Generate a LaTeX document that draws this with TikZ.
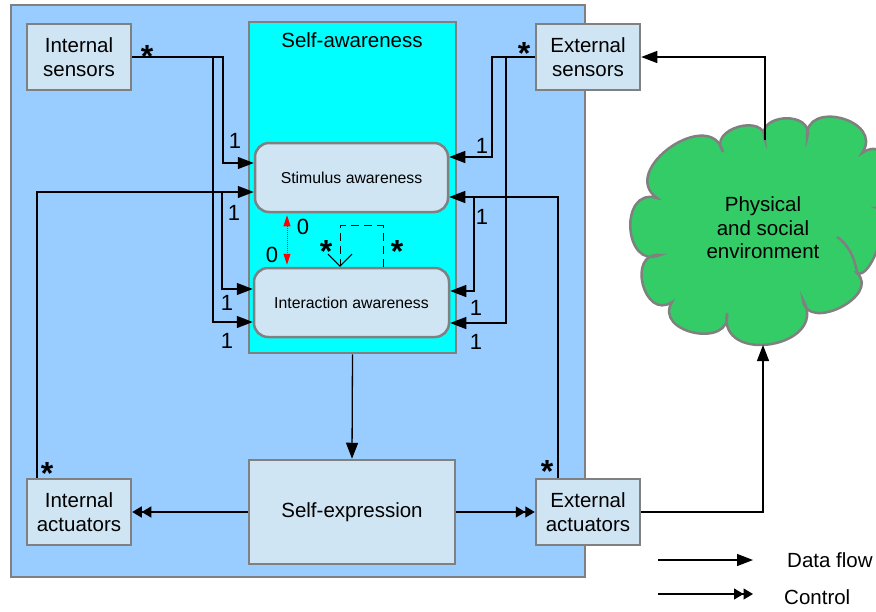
\documentclass[tikz,border=0pt]{standalone}
\usepackage{fontspec}
\setmainfont{Liberation Sans}
\usetikzlibrary{arrows.meta,backgrounds}
\definecolor{outerblue}{RGB}{153,204,255}
\definecolor{boxblue}{RGB}{207,229,243}
\definecolor{bordergray}{RGB}{128,128,128}
\definecolor{cloudgreen}{RGB}{51,204,102}
\definecolor{sacyan}{RGB}{0,255,255}
\tikzset{
  txt/.style={font=\fontsize{20.5}{23.5}\selectfont, align=center, inner sep=0pt},
  box/.style={txt, draw=bordergray, line width=2.5pt, fill=boxblue},
  smallbox/.style={box, minimum width=104pt, minimum height=66pt},
  awbox/.style={box, rounded corners=14pt, font=\fontsize{15.8}{18}\selectfont},
  flow/.style={line width=1.3pt, -{Triangle[length=16pt,width=12pt]}},
  ctrl/.style={line width=1.3pt, -{Triangle[length=9.5pt,width=11pt]Triangle[length=9.5pt,width=11pt]}},
  num/.style={font=\fontsize{22}{22}\selectfont, inner sep=0pt},
  starlbl/.style={font=\fontsize{32}{32}\selectfont\bfseries, inner sep=0pt},
}
\begin{document}
\begin{tikzpicture}[x=1pt,y=-1pt]
\useasboundingbox (0,0) rectangle (876,611);
% outer frame
\node[draw=bordergray, line width=2.5pt, fill=outerblue, minimum width=574pt, minimum height=572pt, inner sep=0pt] (outer) at (298,291) {};
% self-awareness
\node[draw=bordergray, line width=2.5pt, fill=sacyan, minimum width=207pt, minimum height=331pt, inner sep=0pt] (SA) at (352.5,187.5) {};
\node[txt] (satitle) at (352,40) {Self-awareness};
\node[awbox, minimum width=193pt, minimum height=69pt] (Stim) at (351.5,177.5) {Stimulus awareness};
\node[awbox, minimum width=195pt, minimum height=69pt] (Inter) at (351.5,302.5) {Interaction awareness};
% small boxes
\node[smallbox] (IS) at (79,57) {Internal\\sensors};
\node[smallbox] (ES) at (588,57) {External\\sensors};
\node[smallbox] (IA) at (79,512) {Internal\\actuators};
\node[smallbox] (EA) at (588,512) {External\\actuators};
\node[box, minimum width=206pt, minimum height=104pt] (SE) at (352,512) {Self-expression};
% cloud
\coordinate (N1) at (765,140);
\coordinate (N5) at (857,273);
\coordinate (cbot) at (763,345);
\draw[draw=bordergray, line width=2.5pt, fill=cloudgreen]
  (N1) .. controls (753.6,112.9) and (815.7,109.9) .. (807,138)
       .. controls (803.7,98.2) and (885.0,120.4) .. (862,153)
       .. controls (894.6,130.0) and (916.8,211.3) .. (877,208)
       .. controls (893.9,210.1) and (872.1,280.8) .. (N5)
       .. controls (881.1,295.8) and (806.8,333.0) .. (803,300)
       .. controls (829.8,346.9) and (717.4,366.2) .. (727,313)
       .. controls (732.5,349.1) and (653.0,333.2) .. (672,302)
       .. controls (643.9,321.2) and (626.2,251.6) .. (660,255)
       .. controls (623.2,270.6) and (618.7,186.3) .. (657,198)
       .. controls (617.5,170.2) and (710.6,105.4) .. (723,152)
       .. controls (706.3,129.0) and (767.0,111.7) .. (N1) -- cycle;
\draw[bordergray, line width=2.5pt] (837,237) .. controls (848,244) and (855,258) .. (N5);
\node[txt] (cloudtxt) at (763,228) {Physical\\and social\\environment};
\draw[flow] (N1) |- (ES.east);
% left connectors
\draw[flow] (IS.east) -- (223,57) |- ([yshift=14.5pt]Stim.west);
\draw[flow] (IS.east) -| (213,322) -- ([yshift=-19.5pt]Inter.west);
\draw[flow] ([xshift=-42pt]IA.north) |- ([yshift=-14.5pt]Stim.west);
\draw[flow] (222,192) |- ([yshift=13.5pt]Inter.west);
% right connectors
\draw[flow] (ES.west) -| (492,157) -- ([yshift=20.5pt]Stim.east);
\draw[flow] (ES.west) -| (506,323) -- ([yshift=-20.5pt]Inter.east);
\draw[flow] ([xshift=-30pt]EA.north) |- ([yshift=-19.5pt]Stim.east);
\draw[flow] (474,197) |- ([yshift=11.5pt]Inter.east);
% central
\draw[flow] (SA.south) -- (SE.north);
\draw[ctrl] (SE.west) -- (IA.east);
\draw[ctrl] (SE.east) -- (EA.west);
\draw[flow] (EA.east) -| (cbot);
% red dotted
\draw[red, densely dotted, line width=1pt, {Triangle[length=11pt,width=7pt]}-{Triangle[length=11pt,width=7pt]}] ([xshift=-64.5pt,yshift=-2pt]Stim.south) -- ([xshift=-64.5pt,yshift=2pt]Inter.north);
% dashed loop
\draw[line width=1pt, dash pattern=on 8pt off 5pt, -{Straight Barb[length=12pt,width=24pt]}] ([xshift=31.5pt]Inter.north) -- ++(0,-41) -| ([xshift=-11.5pt]Inter.north);
% labels
\node[num] (n1) at (235,141) {1};
\node[num] (n2) at (234,213) {1};
\node[num] (n3) at (227,303) {1};
\node[num] (n4) at (227,341) {1};
\node[num] (n5) at (482,146) {1};
\node[num] (n6) at (482,217) {1};
\node[num] (n7) at (476,308) {1};
\node[num] (n8) at (476,342) {1};
\node[num] (z1) at (303,227) {0};
\node[num] (z2) at (272,255) {0};
\node[starlbl] (s1) at (147,56) {*};
\node[starlbl] (s2) at (524,53.5) {*};
\node[starlbl] (s3) at (47,473.5) {*};
\node[starlbl] (s4) at (547,471.5) {*};
\node[starlbl] (s5) at (326,251.5) {*};
\node[starlbl] (s6) at (397,251.5) {*};
% legend
\coordinate (d1) at (658,560);
\coordinate (d2) at (753,560);
\draw[flow] (d1) -- (d2);
\node[txt, anchor=west] (dl) at (787,560) {Data flow};
\coordinate (c1) at (658,594);
\coordinate (c2) at (753,594);
\draw[ctrl] (c1) -- (c2);
\node[txt, anchor=west] (cl) at (784,597) {Control};
\end{tikzpicture}
\end{document}
